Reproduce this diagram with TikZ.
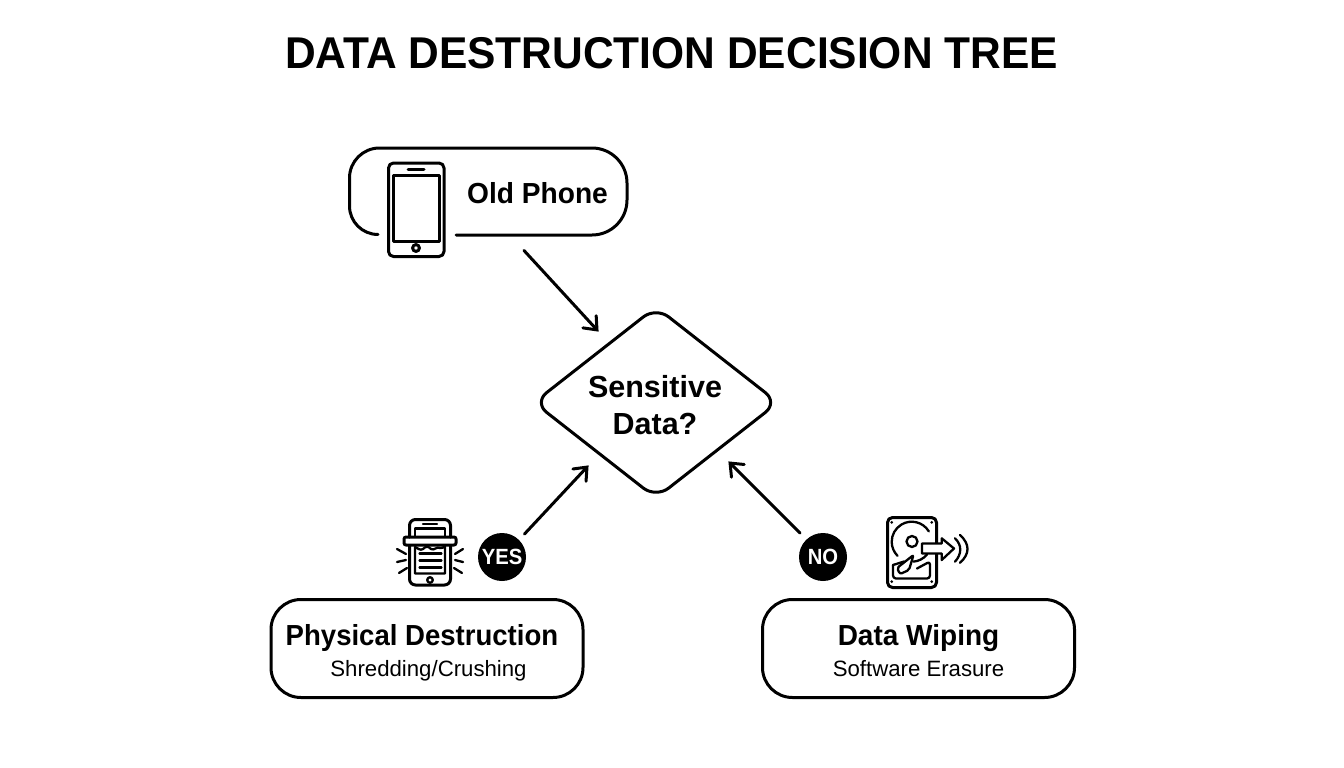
\documentclass[tikz,border=0pt]{standalone}
\usepackage{fontspec}
\setmainfont{Liberation Sans}
\usetikzlibrary{arrows.meta,shapes.geometric}
\newcommand\sx[2]{\scalebox{#1}[1]{#2}}
\pgfdeclarearrow{
  name=VBarb,
  setup code={\pgfarrowssettipend{1.5pt}\pgfarrowssetlineend{-1pt}\pgfarrowssetbackend{-11pt}\pgfarrowssetvisualbackend{-11pt}},
  drawing code={\pgfsetdash{}{0pt}\pgfsetlinewidth{3pt}\pgfsetroundcap\pgfsetmiterjoin
    \pgfpathmoveto{\pgfqpoint{-11pt}{9pt}}\pgfpathlineto{\pgfqpoint{0pt}{0pt}}\pgfpathlineto{\pgfqpoint{-11pt}{-9pt}}\pgfusepathqstroke},
  defaults={}
}
\tikzset{
  every node/.style={inner sep=0pt,outer sep=0pt},
  ln/.style={line width=3pt,draw=black,line join=round},
  ic/.style={line width=3pt,draw=black,line join=round,line cap=round},
  thinic/.style={line width=2.3pt,draw=black,line join=round,line cap=round},
  flow/.style={line width=3pt,draw=black,line cap=round,-{VBarb}},
  box/.style={ln,rounded corners=30pt,minimum width=312pt,minimum height=98pt,fill=white},
  badge/.style={circle,fill=black,minimum size=48pt,text=white,font=\fontsize{22}{22}\selectfont\bfseries},
  head/.style={font=\fontsize{29}{29}\selectfont\bfseries,anchor=base},
  sub/.style={font=\fontsize{22.2}{22.2}\selectfont,anchor=base},
}
\begin{document}
\begin{tikzpicture}[x=1pt,y=-1pt]
\useasboundingbox (0,0) rectangle (1344,768);
\fill[white] (0,0) rectangle (1344,768);
\node[font=\fontsize{44.5}{44.5}\selectfont\bfseries] (title) at (671.5,53) {\sx{.955}{DATA DESTRUCTION DECISION TREE}};

% Old phone callout
\draw[ln,line cap=round] (378,234.5) arc[start angle=90,end angle=180,radius=28.5] -- (349.5,178)
  arc[start angle=180,end angle=270,radius=30] -- (592,148)
  arc[start angle=270,end angle=360,radius=35] -- (627,200)
  arc[start angle=0,end angle=90,radius=35] -- (456,235);
\node[head] (old) at (537.5,203.5) {\sx{.97}{Old Phone}};
\draw[ic,rounded corners=5pt] (388.5,163) rectangle (444,256.5);
\draw[ic] (393.5,175.5) rectangle (439,241);
\draw[ic] (408,169) -- (424,169);
\draw[ic] (416,248) circle[radius=3.4];

% Decision
\node[diamond,ln,rounded corners=16pt,minimum width=244pt,minimum height=191pt] (dec) at (656,402.5) {};
\node[align=center,font=\fontsize{30.5}{37}\selectfont\bfseries] (dect) at (655,405.5) {Sensitive\\Data?};

% Outcome boxes
\node[box] (phys) at (427,648.5) {};
\node[box] (wipe) at (918.5,648.5) {};
\node[head] (physa) at (422,645) {\sx{.95}{Physical Destruction}};
\node[sub] (physb) at (428.5,676) {Shredding/Crushing};
\node[head] (wipea) at (918.5,645) {\sx{.965}{Data Wiping}};
\node[sub] (wipeb) at (918.5,676) {Software Erasure};

\node[badge] (yes) at (502,557) {\sx{.92}{YES}};
\node[badge] (no) at (823,557) {\sx{.92}{NO}};

% Connector ends
\coordinate (a1) at (524,250.5);
\coordinate (a2) at (598,331);
\coordinate (b1) at (524.5,534);
\coordinate (b2) at (588,466);
\coordinate (c1) at (800,533);
\coordinate (c2) at (729,462);
\draw[flow] (a1) -- (a2);
\draw[flow] (b1) -- (b2);
\draw[flow] (c1) -- (c2);

% Shredder icon
\draw[ic,rounded corners=6pt] (409.5,537) -- (409.5,519.5) -- (450.5,519.5) -- (450.5,537);
\draw[ic,rounded corners=6pt] (409.5,546) -- (409.5,585) -- (450.5,585) -- (450.5,546);
\draw[thinic] (415,537) -- (415,528.5) -- (445,528.5) -- (445,537);
\draw[thinic] (423,523.7) -- (437,523.7);
\draw[ic,rounded corners=2pt] (404,537) rectangle (456,545);
\draw[thinic] (415,573.5) -- (415,547) .. controls (418,548) and (420,551) .. (423,549)
  .. controls (426,546) and (428,546) .. (431,549)
  .. controls (434,551) and (437,546) .. (440,548) .. controls (442,549) and (443,547) .. (445,546) -- (445,573.5) -- cycle;
\draw[thinic] (419.5,553.5) -- (441.5,553.5) (419.5,560.5) -- (441.5,560.5) (419.5,567.5) -- (441.5,567.5);
\draw[thinic] (430,580) circle[radius=2.8];
\draw[thinic] (397,549) -- (406,554) (397,562) -- (406,560) (399,573) -- (407,568);
\draw[thinic] (463,549) -- (455,554) (463,562) -- (455,560) (462,573) -- (454,568);

% Hard drive icon
\draw[ic,rounded corners=5pt] (887.5,517.5) rectangle (936.5,587.5);
\foreach \p in {(891.7,522.3),(931.7,522.3),(891.7,581.7),(931.7,581.7)} \fill \p circle[radius=1.5];
\draw[thinic] (911.7,541.7) ++(-31:20) arc[start angle=-31,end angle=-225,radius=20];
\draw[thinic] (911.7,541.7) ++(85:20) arc[start angle=85,end angle=40,radius=20];
\draw[thinic] (912,541.5) circle[radius=5.5];
\draw[thinic,rounded corners=3pt] (893,565) -- (893,578.5) -- (930,578.5) -- (930,561.5) -- (917,568.5);
\draw[thinic] (893,565) -- (904,561.5);
\draw[thinic,rounded corners=2pt,fill=white] (913.5,555) -- (909,570) -- (900,574) -- (897,568) -- cycle;
\draw[thinic,fill=white] (922,543.5) -- (941.7,543.5) -- (941.7,538.3) -- (954,548.5) -- (941.7,560) -- (941.7,553.5) -- (922,553.5) -- cycle;
\draw[thinic] (955,538.3) .. controls (962,545) and (962,554) .. (955,561.7);
\draw[thinic] (960,535) .. controls (970,544) and (970,554) .. (960,562.7);
\end{tikzpicture}
\end{document}
